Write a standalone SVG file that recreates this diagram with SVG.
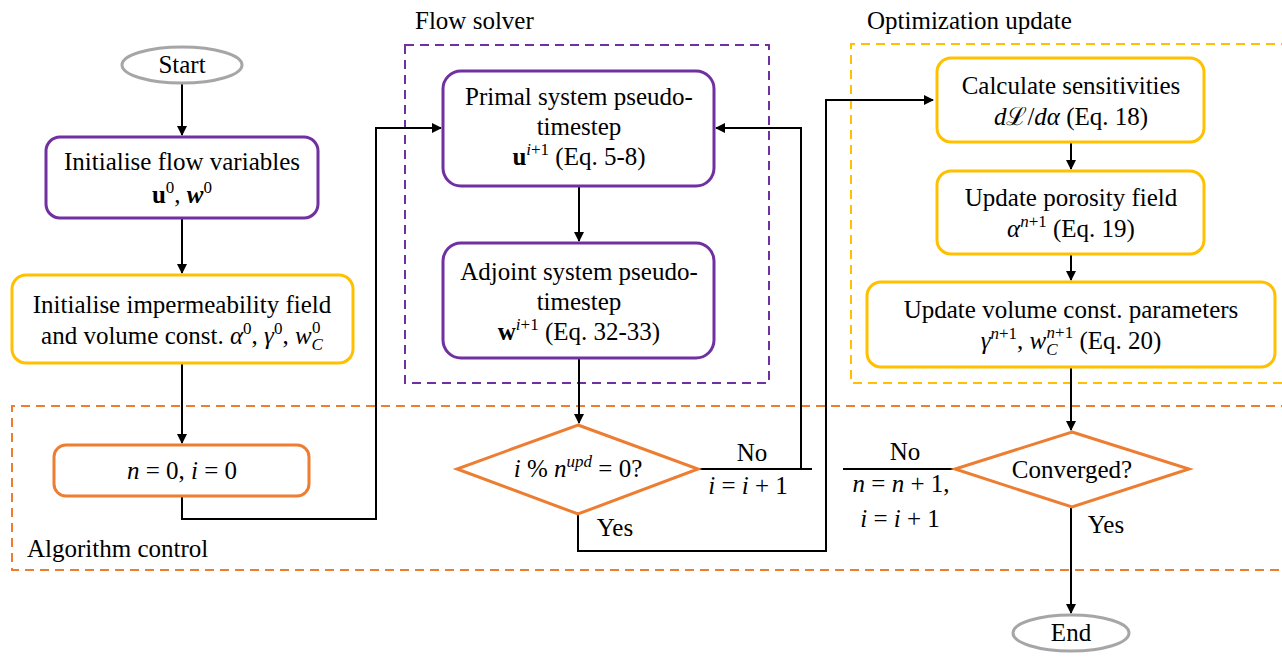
<svg xmlns="http://www.w3.org/2000/svg" width="1282" height="657" viewBox="0 0 1282 657" font-family="'Liberation Serif', serif">
<defs>
<marker id="ah" markerWidth="10" markerHeight="10" refX="9" refY="5" orient="auto" markerUnits="userSpaceOnUse" viewBox="0 0 10 10">
<path d="M0,0 L10,5 L0,10 z" fill="#000"/>
</marker>
<style>
text{font-family:"Liberation Serif","Times New Roman",serif;font-size:25px;fill:#000}
.m{font-style:italic}
.b{font-weight:bold}
.sup{font-size:17px}
.c{text-anchor:middle}
.pur{fill:#fff;stroke:#7030A0;stroke-width:3}
.yel{fill:#fff;stroke:#FFC000;stroke-width:3}
.org{fill:#fff;stroke:#ED7D31;stroke-width:3}
.gry{fill:#fff;stroke:#A6A6A6;stroke-width:3}
.con{fill:none;stroke:#000;stroke-width:2}
.arr{marker-end:url(#ah)}
.dash{fill:none;stroke-width:2;stroke-dasharray:9,6}
</style>
</defs>
<rect width="1282" height="657" fill="#fff"/>

<g id="groups">
<rect x="405" y="45" width="364" height="338" class="dash" stroke="#7030A0"/>
<text x="415" y="29">Flow solver</text>
<path d="M1290,44 H851 V383 H1290" class="dash" stroke="#FFC000"/>
<text x="867" y="29">Optimization update</text>
<path d="M1290,406 H12 V570 H1290" class="dash" stroke="#ED7D31"/>
<text x="27" y="557">Algorithm control</text>
</g>

<g id="connectors">
<line x1="182" y1="84" x2="182" y2="135" class="con arr"/>
<line x1="182" y1="219" x2="182" y2="273" class="con arr"/>
<line x1="182" y1="364" x2="182" y2="443" class="con arr"/>
<polyline points="182,496 182,519 376,519 376,128 441,128" class="con arr"/>
<line x1="579" y1="186" x2="579" y2="241" class="con arr"/>
<line x1="579" y1="358" x2="579" y2="423" class="con arr"/>
<line x1="698" y1="469" x2="812" y2="469" class="con"/>
<polyline points="801,469 801,128 716,128" class="con arr"/>
<polyline points="578,514 578,551 826,551 826,100 933,100" class="con arr"/>
<line x1="1071" y1="142" x2="1071" y2="169" class="con arr"/>
<line x1="1071" y1="254" x2="1071" y2="280" class="con arr"/>
<line x1="1071" y1="367" x2="1071" y2="430" class="con arr"/>
<line x1="955" y1="469" x2="843" y2="469" class="con"/>
<line x1="1071" y1="507" x2="1071" y2="613" class="con arr"/>
<text x="752" y="461" class="c">No</text>
<text x="748" y="494" class="c"><tspan class="m">i</tspan> = <tspan class="m">i</tspan> + 1</text>
<text x="615" y="536" class="c">Yes</text>
<text x="905" y="460" class="c">No</text>
<text x="901" y="492" class="c"><tspan class="m">n</tspan> = <tspan class="m">n</tspan> + 1,</text>
<text x="900" y="527" class="c"><tspan class="m">i</tspan> =  <tspan class="m">i</tspan> + 1</text>
<text x="1106" y="533" class="c">Yes</text>
</g>

<g id="start">
<ellipse cx="182" cy="65" rx="60" ry="18" class="gry"/>
<text x="182" y="73" class="c">Start</text>
</g>

<g id="init-flow">
<rect x="46" y="137" width="272" height="81" rx="14" class="pur"/>
<text x="182" y="170" class="c">Initialise flow variables</text>
<text x="182" y="203" class="c"><tspan class="b">u</tspan><tspan class="sup" dy="-10">0</tspan><tspan dy="10">, </tspan><tspan class="b m">w</tspan><tspan class="sup" dy="-10">0</tspan></text>
</g>

<g id="init-imperm">
<rect x="12" y="275" width="341" height="88" rx="14" class="yel"/>
<text x="182" y="313" class="c">Initialise impermeability field</text>
<text x="182" y="344" class="c">and volume const.  <tspan class="m">α</tspan><tspan class="sup" dy="-10">0</tspan><tspan dy="10">, </tspan><tspan class="m">γ</tspan><tspan class="sup" dy="-10">0</tspan><tspan dy="10">, </tspan><tspan class="m">w</tspan><tspan class="sup m" dy="6">C</tspan><tspan class="sup" dx="-11" dy="-17">0</tspan></text>
</g>

<g id="init-counters">
<rect x="54" y="445" width="255" height="51" rx="12" class="org"/>
<text x="182" y="479" class="c"><tspan class="m">n</tspan> = 0, <tspan class="m">i</tspan> = 0</text>
</g>

<g id="primal">
<rect x="443" y="71" width="271" height="115" rx="18" class="pur"/>
<text x="579" y="105" class="c">Primal system pseudo-</text>
<text x="579" y="135" class="c">timestep</text>
<text x="579" y="165" class="c"><tspan class="b">u</tspan><tspan class="sup m" dy="-10">i</tspan><tspan class="sup">+1</tspan><tspan dy="10"> (Eq. 5-8)</tspan></text>
</g>

<g id="adjoint">
<rect x="443" y="243" width="271" height="115" rx="18" class="pur"/>
<text x="579" y="280" class="c">Adjoint system pseudo-</text>
<text x="579" y="310" class="c">timestep</text>
<text x="579" y="340" class="c"><tspan class="b">w</tspan><tspan class="sup m" dy="-10">i</tspan><tspan class="sup">+1</tspan><tspan dy="10"> (Eq. 32-33)</tspan></text>
</g>

<g id="check-update">
<polygon points="578,425 698,469 578,514 457,469" class="org"/>
<text x="578" y="477" class="c"><tspan class="m">i</tspan> % <tspan class="m">n</tspan><tspan class="sup m" dy="-10">upd</tspan><tspan dy="10"> = 0?</tspan></text>
</g>

<g id="sensitivities">
<rect x="937" y="58" width="267" height="84" rx="14" class="yel"/>
<text x="1071" y="94" class="c">Calculate sensitivities</text>
<text x="1071" y="125" class="c"><tspan class="m">d</tspan>ℒ/<tspan class="m">dα</tspan> (Eq. 18)</text>
</g>

<g id="porosity">
<rect x="937" y="171" width="267" height="83" rx="14" class="yel"/>
<text x="1071" y="206" class="c">Update porosity field</text>
<text x="1071" y="237" class="c"><tspan class="m">α</tspan><tspan class="sup m" dy="-10">n</tspan><tspan class="sup">+1</tspan><tspan dy="10"> (Eq. 19)</tspan></text>
</g>

<g id="volume">
<rect x="867" y="282" width="408" height="85" rx="14" class="yel"/>
<text x="1071" y="318" class="c">Update volume const. parameters</text>
<text x="1071" y="349" class="c"><tspan class="m">γ</tspan><tspan class="sup m" dy="-10">n</tspan><tspan class="sup">+1</tspan><tspan dy="10">,  </tspan><tspan class="m">w</tspan><tspan class="sup m" dy="6">C</tspan><tspan class="sup m" dx="-11" dy="-17">n</tspan><tspan class="sup">+1</tspan><tspan dy="11"> (Eq. 20)</tspan></text>
</g>

<g id="converged">
<polygon points="1072,432 1189,469 1072,507 955,469" class="org"/>
<text x="1072" y="478" class="c">Converged?</text>
</g>

<g id="end">
<ellipse cx="1071" cy="633" rx="58" ry="18" class="gry"/>
<text x="1071" y="641" class="c">End</text>
</g>
</svg>
